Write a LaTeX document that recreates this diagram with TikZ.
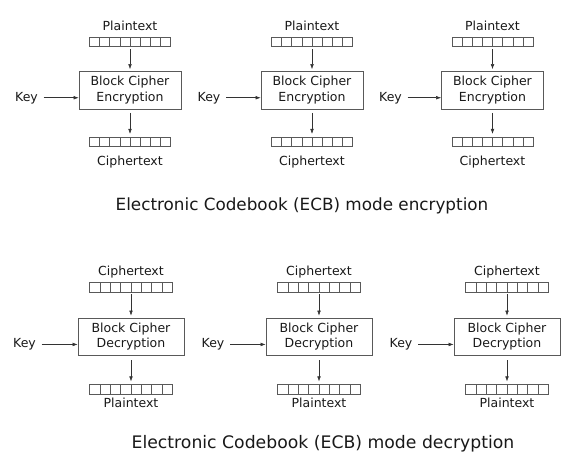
\documentclass[tikz,border=0pt]{standalone}
\usepackage{fontspec}
\setmainfont{DejaVu Sans}
\usetikzlibrary{arrows.meta,calc}
\begin{document}
\begin{tikzpicture}[x=1pt,y=-1pt,
  lbl/.style={font=\fontsize{12.5}{15}\selectfont, inner sep=0pt, text=black!90},
  cipherbox/.style={draw=black!65, line width=0.7pt, minimum width=102pt, minimum height=38pt,
    align=center, font=\fontsize{12.5}{15.5}\selectfont, inner sep=0pt, text=black!90},
  cellrow/.style={draw=black!65, line width=0.6pt, minimum width=81pt, minimum height=9.5pt, inner sep=0pt},
  celldiv/.style={draw=black!65, line width=0.6pt},
  arr/.style={-{Latex[length=5pt,width=3.6pt]}, line width=0.5pt, draw=black!80},
  title/.style={font=\fontsize{16.8}{20}\selectfont, inner sep=0pt, text=black!90}]
\useasboundingbox[fill=white] (0,0) rectangle (582,463);

% ---------- encryption row ----------
\foreach \n/\x/\kx in {1/130/26.5, 2/312/209, 3/492.5/390.5} {
  \node[lbl, anchor=base] (tin\n) at (\x,30.7) {Plaintext};
  \node[cellrow] (bin\n) at (\x,42) {};
  \node[cipherbox] (box\n) at (\x,90) {Block Cipher\\Encryption};
  \node[cellrow] (bout\n) at (\x,142) {};
  \node[lbl, anchor=base] (tout\n) at (\x,165.7) {Ciphertext};
  \node[lbl, anchor=base] (key\n) at (\kx,101) {Key};
  \foreach \i in {1,...,7} {
    \draw[celldiv] ($(bin\n.south west)!\i/8!(bin\n.south east)$) -- ($(bin\n.north west)!\i/8!(bin\n.north east)$);
    \draw[celldiv] ($(bout\n.south west)!\i/8!(bout\n.south east)$) -- ($(bout\n.north west)!\i/8!(bout\n.north east)$);
  }
  \draw[arr, shorten <=2pt, shorten >=1.5pt] (bin\n.south) -- (box\n.north);
  \draw[arr, shorten <=3.5pt, shorten >=3pt] (box\n.south) -- (bout\n.north);
  \draw[arr, shorten <=5.5pt] (key\n.east) -- (key\n.east -| box\n.west);
}
\node[title, anchor=base] (enc) at (302,210) {Electronic Codebook (ECB) mode encryption};

% ---------- decryption row ----------
\foreach \n/\x/\kx in {1/131/24.5, 2/319/213, 3/507/401} {
  \node[lbl, anchor=base] (dtin\n) at (\x,275) {Ciphertext};
  \node[cellrow, minimum width=82.5pt, minimum height=10pt] (dbin\n) at (\x,287) {};
  \node[cipherbox, minimum width=106pt, minimum height=37pt] (dbox\n) at (\x,336.5) {Block Cipher\\Decryption};
  \node[cellrow, minimum width=82.5pt] (dbout\n) at (\x,389.5) {};
  \node[lbl, anchor=base] (dtout\n) at (\x,407.3) {Plaintext};
  \node[lbl, anchor=base] (dkey\n) at (\kx,347.7) {Key};
  \foreach \i in {1,...,7} {
    \draw[celldiv] ($(dbin\n.south west)!\i/8!(dbin\n.south east)$) -- ($(dbin\n.north west)!\i/8!(dbin\n.north east)$);
    \draw[celldiv] ($(dbout\n.south west)!\i/8!(dbout\n.south east)$) -- ($(dbout\n.north west)!\i/8!(dbout\n.north east)$);
  }
  \draw[arr, shorten <=2pt, shorten >=2pt] (dbin\n.south) -- (dbox\n.north);
  \draw[arr, shorten <=5pt, shorten >=3pt] (dbox\n.south) -- (dbout\n.north);
  \draw[arr, shorten <=5.5pt] (dkey\n.east) -- (dkey\n.east -| dbox\n.west);
}
\node[title, anchor=base, font=\fontsize{17.25}{20}\selectfont] (dec) at (323,448.3) {Electronic Codebook (ECB) mode decryption};
\end{tikzpicture}
\end{document}
